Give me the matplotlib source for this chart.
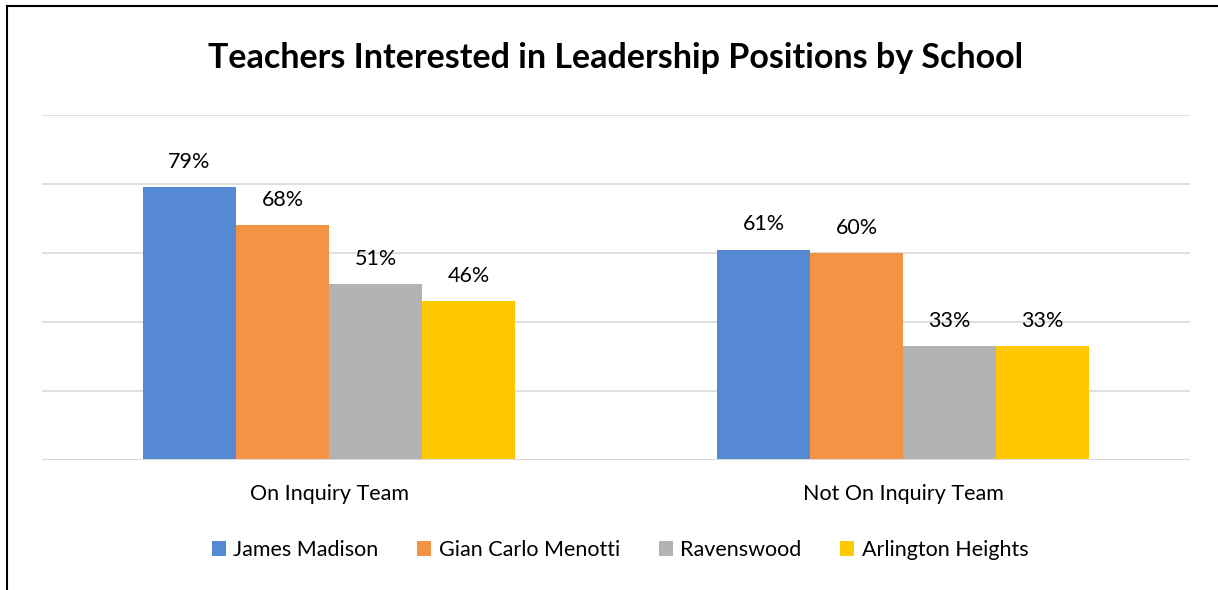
import matplotlib.pyplot as plt
import numpy as np
from matplotlib.lines import Line2D

plt.rcParams['font.family'] = ['Lato', 'DejaVu Sans']

categories = ['On Inquiry Team', 'Not On Inquiry Team']
schools = ['James Madison', 'Gian Carlo Menotti', 'Ravenswood', 'Arlington Heights']
values = {
    'James Madison': [79, 61],
    'Gian Carlo Menotti': [68, 60],
    'Ravenswood': [51, 33],
    'Arlington Heights': [46, 33],
}
colors = ['#5589D3', '#F39343', '#B3B3B3', '#FFC800']

fig = plt.figure(figsize=(12.18, 5.9), dpi=100)
ax = fig.add_axes([42/1218, 130/590, 1148/1218, 345/590])

x = np.arange(len(categories))
w = 0.162
for i, s in enumerate(schools):
    bars = ax.bar(x + (i - 1.5) * w, values[s], width=w, color=colors[i],
                  label=s, zorder=3)
    for b, v in zip(bars, values[s]):
        ax.annotate(f'{v}%', (b.get_x() + b.get_width() / 2, v),
                    xytext=(0, 11), textcoords='offset points',
                    ha='center', va='bottom', fontsize=15.5)

ax.set_xlim(-0.5, 1.5)
ax.set_ylim(0, 100)
ax.set_yticks(range(0, 101, 20))
ax.yaxis.grid(True, color='#D9D9D9', linewidth=1.2, zorder=0)
ax.tick_params(axis='y', left=False, labelleft=False)
ax.tick_params(axis='x', bottom=False, labelsize=15.5, pad=14)
ax.set_xticks(x)
ax.set_xticklabels(categories)
for sp in ax.spines.values():
    sp.set_visible(False)
ax.axhline(0, color='#D9D9D9', linewidth=1.5, zorder=4)

fig.text(616/1218, 1 - 58/590, 'Teachers Interested in Leadership Positions by School',
         ha='center', va='center', fontsize=24.5, fontweight='bold')

fig.legend(loc='center', bbox_to_anchor=(620/1218, 1 - 550/590), ncol=4,
           frameon=False, fontsize=15.5, handlelength=0.65, handleheight=0.65,
           handletextpad=0.35, columnspacing=1.8)

# frame lines (left and top) from the screenshot
fig.add_artist(Line2D([7/1218, 7/1218], [0, 1 - 6/590], color='black', linewidth=1.5,
                      transform=fig.transFigure))
fig.add_artist(Line2D([7/1218, 1], [1 - 6/590, 1 - 6/590], color='black', linewidth=1.5,
                      transform=fig.transFigure))

fig.savefig('out.png', dpi=100)
